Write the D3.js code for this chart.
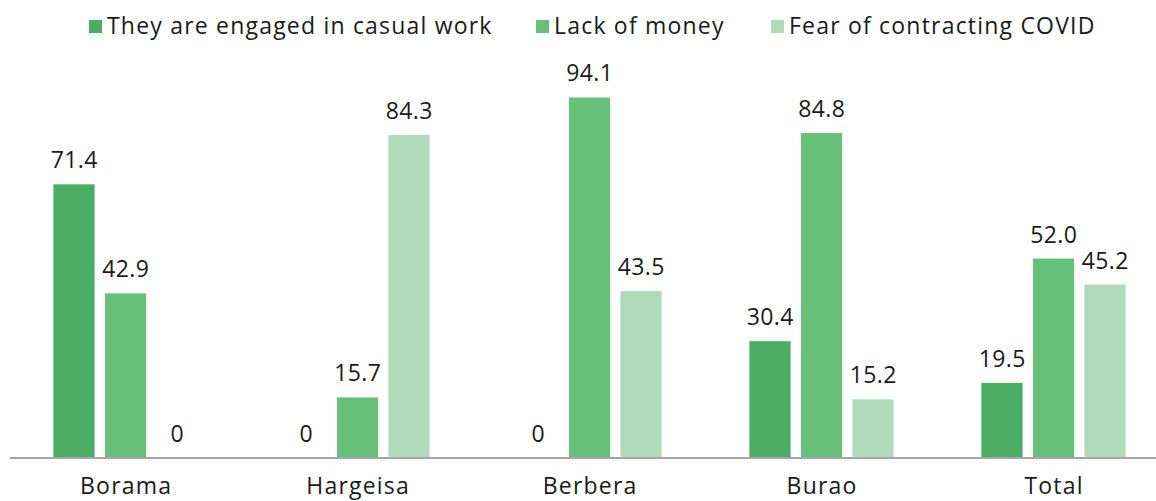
<!DOCTYPE html>
<html><head><meta charset="utf-8">
<script src="https://cdn.jsdelivr.net/npm/d3@7"></script>
<style>
body{margin:0;background:#fff;}
text{font-family:"Open Sans",sans-serif;fill:#1a1a1a;}
</style></head>
<body><svg id="c" width="1156" height="501"></svg>
<script>
const categories = ["Borama","Hargeisa","Berbera","Burao","Total"];
const seriesNames = ["They are engaged in casual work","Lack of money","Fear of contracting COVID"];
const casualWork = [71.4, 0, 0, 30.4, 19.5];
const lackOfMoney = [42.9, 15.7, 94.1, 84.8, 52.0];
const fearOfCovid = [0, 84.3, 43.5, 15.2, 45.2];
const colors = ["#4aad63","#66c07a","#b0dbb8"];

const seriesValues = [casualWork, lackOfMoney, fearOfCovid];
const svg = d3.select("#c");
const baseY = 457.5;
const x0 = d3.scaleBand().domain(categories).range([9.5, 1169.5]).paddingInner(0.334).paddingOuter(0.167);
const x1 = d3.scaleBand().domain(seriesNames).range([0, x0.bandwidth()]).paddingInner(0.2).paddingOuter(0.1);
const y = d3.scaleLinear().domain([0, 100]).range([baseY, 74.9]);

const groups = svg.append("g").selectAll("g").data(categories).join("g")
  .attr("transform", d => `translate(${x0(d)},0)`);

groups.each(function(cat, ci){
  const g = d3.select(this);
  seriesNames.forEach((s, si) => {
    const v = seriesValues[si][ci];
    g.append("rect").attr("x", x1(s)).attr("width", x1.bandwidth())
      .attr("y", y(v)).attr("height", baseY - y(v)).attr("fill", colors[si]);
    g.append("text").attr("x", x1(s) + x1.bandwidth()/2 + 0.2).attr("y", y(v) - 16)
      .attr("text-anchor","middle").style("font-size","23px").style("letter-spacing","0.4px")
      .text(v === 0 ? "0" : v.toFixed(1));
  });
});

const axis = d3.axisBottom(x0).tickSize(0).tickPadding(0);
const ag = svg.append("g").attr("transform", `translate(0,${baseY})`).call(axis);
ag.select(".domain").attr("stroke","#a6a6a6").attr("stroke-width",2);
ag.selectAll(".tick text").attr("y", 36).attr("dy", 0).attr("dx", 0.6)
  .style("font-size","23px").style("letter-spacing","1.2px")
  .style("font-family","'Open Sans',sans-serif").attr("fill","#1a1a1a");

// legend
const legendX = [89, 536, 771];
const lg = svg.append("g");
seriesNames.forEach((s, i) => {
  lg.append("rect").attr("x", legendX[i]).attr("y", 20).attr("width", 13).attr("height", 13).attr("fill", colors[i]);
  lg.append("text").attr("x", legendX[i] + 18).attr("y", 34).style("font-size","23px")
    .style("letter-spacing","1.2px").text(s);
});
</script></body></html>
